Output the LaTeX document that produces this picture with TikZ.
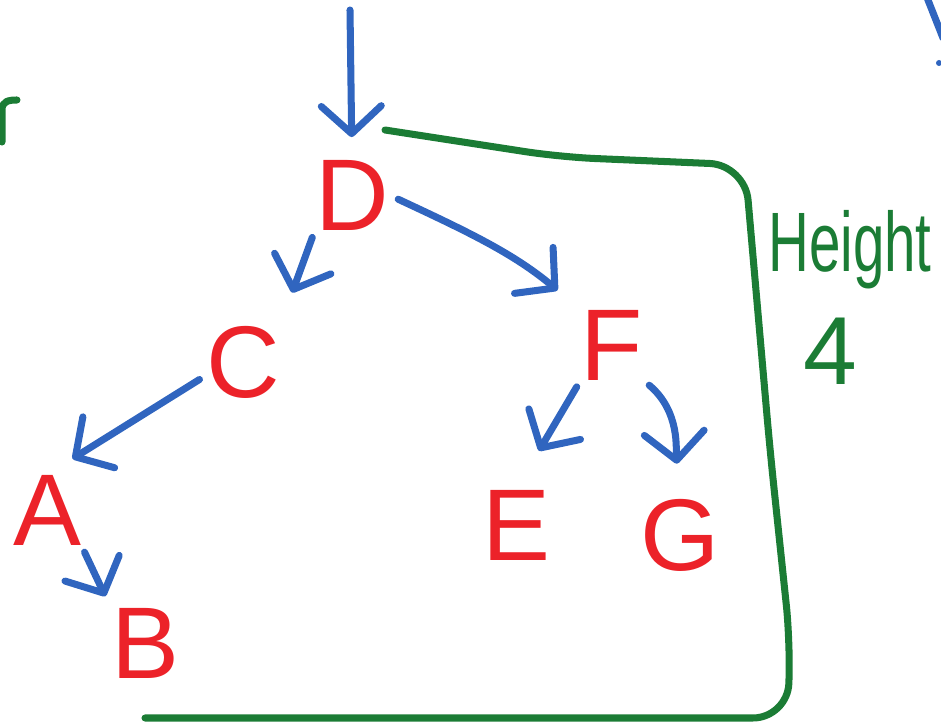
\documentclass[tikz,border=0pt]{standalone}
\usepackage{fontspec}
\setmainfont{Liberation Sans}
\usepackage{xcolor}
\usetikzlibrary{arrows.meta,positioning}
\definecolor{inkred}{HTML}{EC2229}
\definecolor{inkblue}{HTML}{3065BF}
\definecolor{inkgreen}{HTML}{1B7C35}
\begin{document}
\begin{tikzpicture}[x=0.02cm, y=-0.02cm,
  key/.style={text=inkred, font=\fontsize{58}{58}\selectfont, inner sep=0pt},
  edge/.style={-{Straight Barb[length=5.5mm,width=12mm,round]}, draw=inkblue, line width=4pt, line cap=round},
  frame/.style={draw=inkgreen, line width=4pt, line cap=round, line join=round},
  note/.style={text=inkgreen, font=\fontsize{48}{48}\selectfont, inner sep=0pt}
]
\useasboundingbox (0,0) rectangle (941,726);
\clip (0,0) rectangle (941,726);
\node[key] (d) at (352,195) {D};
\node[key] (c) at (243,362) {C};
\node[key] (f) at (612,345) {F};
\node[key] (a) at (47,510) {A};
\node[key] (e) at (516,525) {E};
\node[key] (g) at (680,535) {G};
\node[key] (b) at (145,643) {B};
\coordinate (root) at (350,10);
\draw[edge, shorten >=0.45cm] (root)--(d.north);
\foreach \x/\y/\s in {d.south west/c.north east/0.7cm, c.200/a.north/0.6cm, a.south east/b.north west/0.25cm, f.south west/e.north/0.9cm}{\draw[edge, shorten <=0.15cm, shorten >=\s] (\x)--(\y);}
\draw[edge, shorten <=0.2cm, shorten >=0.6cm] (d.east) to[out=-25, in=140] (f.north west);
\draw[edge, shorten <=0.15cm, shorten >=0.7cm] (f.south east) to[out=-40, in=95] (g.north);
% height bracket
\draw[frame, rounded corners=20pt] (385,130) -- (560,157) -- (745,165) -- (770,450) -- (790,640) -- (788,718) -- (145,718);
\node[note, anchor=base west] (h) at (768,272) {\scalebox{0.67}[1]{Height}};
\node[note, font=\fontsize{55}{55}\selectfont, below=0.55cm of h.south, xshift=-0.4cm] (n) {4};
% cut-off strokes at the edges
\draw[frame] (2,142) -- (2,110) .. controls (2,101) and (9,100) .. (17,100);
\draw[draw=inkblue, line width=4pt, line cap=round] (926,-5) -- (943,38);
\fill[inkblue] (939,63) circle (3);
\end{tikzpicture}
\end{document}
